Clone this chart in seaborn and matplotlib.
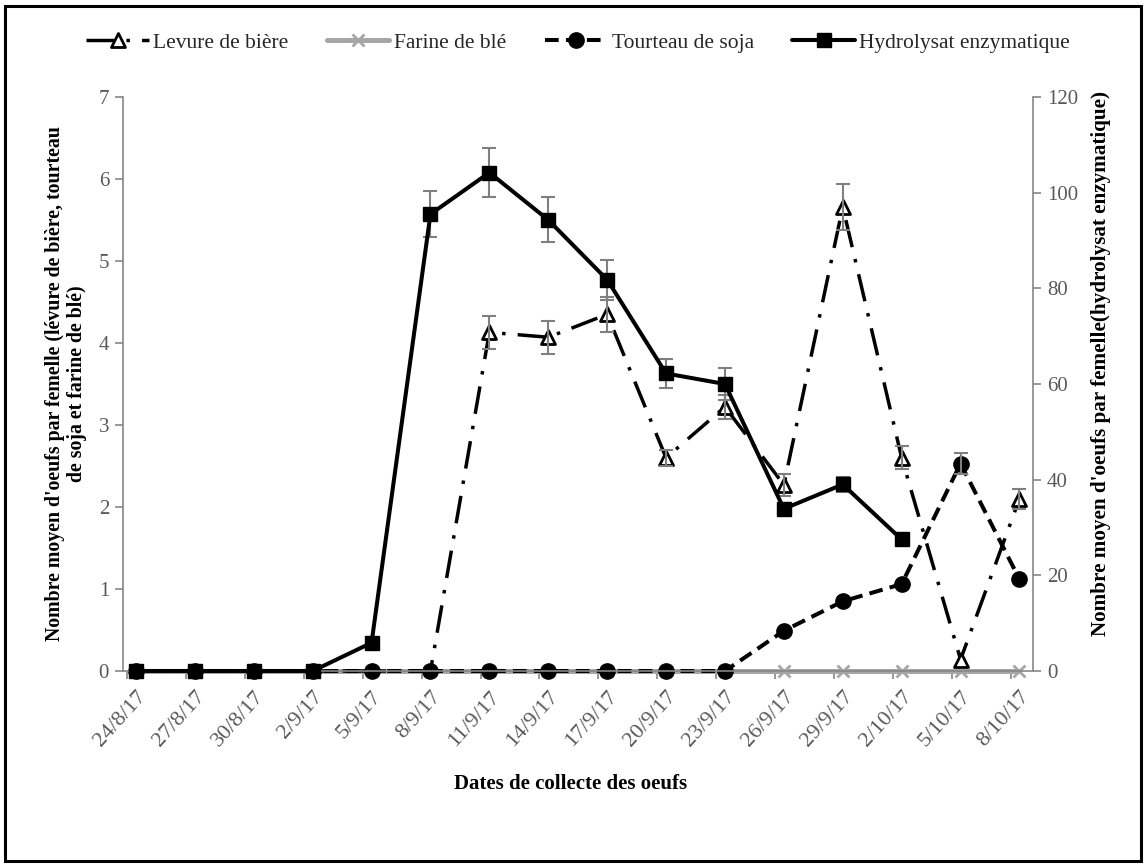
import numpy as np
import matplotlib
matplotlib.use("Agg")
import matplotlib.pyplot as plt
import seaborn as sns
from matplotlib.markers import MarkerStyle
from matplotlib.patches import Rectangle

# dates de collecte
dates = ["24/8/17", "27/8/17", "30/8/17", "2/9/17", "5/9/17", "8/9/17",
         "11/9/17", "14/9/17", "17/9/17", "20/9/17", "23/9/17", "26/9/17",
         "29/9/17", "2/10/17", "5/10/17", "8/10/17"]

# axe gauche
levure = [0, 0, 0, 0, 0, 0, 4.13, 4.07, 4.35, 2.6, 3.22, 2.27, 5.66, 2.6, 0.14, 2.1]
levure_err = [0, 0, 0, 0, 0, 0, 0.2, 0.2, 0.21, 0.1, 0.15, 0.13, 0.28, 0.14, 0, 0.12]
farine = [0, 0, 0, 0, 0, 0, 0, 0, 0, 0, 0, 0, 0, 0, 0, 0]
soja = [0, 0, 0, 0, 0, 0, 0, 0, 0, 0, 0, 0.49, 0.85, 1.06, 2.53, 1.12]
soja_err = [0, 0, 0, 0, 0, 0, 0, 0, 0, 0, 0, 0, 0, 0, 0.13, 0]

# axe droit
hydrolysat = [0, 0, 0, 0, 5.9, 95.5, 104.2, 94.3, 81.8, 62.2, 60, 33.9, 39, 27.5, np.nan, np.nan]
hydro_err = [0, 0, 0, 0, 0, 4.8, 5.2, 4.7, 4.2, 3, 3.3, 0, 1.5, 0, 0, 0]

sns.set_theme(style="white")
plt.rcParams['font.family'] = ['Liberation Serif', 'DejaVu Serif']

gris_axe = '#868686'
gris_txt = '#595959'
gris_err = '#7f7f7f'

fig = plt.figure(figsize=(11.47, 8.67), dpi=100)
ax = fig.add_axes([123 / 1147, 1 - 671 / 867, 910 / 1147, 574 / 867])
ax2 = ax.twinx()

x = np.arange(len(dates))


def barres(a, valeurs, erreurs):
    # seulement les points qui ont une barre d'erreur
    v = np.asarray(valeurs, dtype=float)
    e = np.asarray(erreurs, dtype=float)
    m = e > 0
    a.errorbar(x[m], v[m], yerr=e[m], fmt='none', ecolor=gris_err,
               elinewidth=1.5, capsize=5, capthick=1.5)


sns.lineplot(x=x, y=farine, ax=ax, color='#a6a6a6', linewidth=3.6, clip_on=False,
             marker='x', markersize=9, markeredgewidth=2, markeredgecolor='#a6a6a6',
             label='Farine de blé', legend=False)
# les triangles a zero sont caches sous les carres / ronds dans l'original
sns.lineplot(x=x, y=levure, ax=ax, color='black', linewidth=2.5, clip_on=False,
             linestyle=(0, (8, 3.5, 1, 3.5)),
             marker=MarkerStyle('^', joinstyle='round'), markersize=9.5, markeredgewidth=2,
             markeredgecolor='black', markerfacecolor='white',
             markevery=[v > 0 for v in levure],
             label='Levure de bière', legend=False)
barres(ax, levure, levure_err)
sns.lineplot(x=x, y=soja, ax=ax, color='black', linewidth=2.9, clip_on=False,
             linestyle=(0, (3.4, 1.8)),
             marker='o', markersize=11, markeredgewidth=1,
             markeredgecolor='black', markerfacecolor='black',
             label='Tourteau de soja', legend=False)
barres(ax, soja, soja_err)

barres(ax2, hydrolysat, hydro_err)
sns.lineplot(x=x, y=hydrolysat, ax=ax2, color='black', linewidth=2.9, clip_on=False,
             marker='s', markersize=10.5, markeredgewidth=1,
             markeredgecolor='black', markerfacecolor='black',
             label='Hydrolysat enzymatique', legend=False)

ax.set_xlim(-0.22, 15.23)
ax.set_ylim(0, 7)
ax2.set_ylim(0, 120)
ax.set_yticks(range(0, 8))
ax2.set_yticks(range(0, 121, 20))
# etiquettes sous les points, traits de graduation un peu decales
ax.set_xticks(x)
ax.set_xticks(x - 0.15, minor=True)
ax.set_xticklabels(dates, rotation=48, ha='right', va='top', rotation_mode='anchor')

for a in (ax, ax2):
    for s in a.spines.values():
        s.set_color(gris_axe)
        s.set_linewidth(1.2)
    a.spines['top'].set_visible(False)
    a.grid(False)
ax.spines['right'].set_visible(False)
ax2.spines['left'].set_visible(False)
ax2.spines['bottom'].set_visible(False)

ax.tick_params(axis='y', direction='out', length=6, width=1.2, color=gris_axe,
               labelsize=15, labelcolor=gris_txt, pad=4)
ax.tick_params(axis='x', which='major', length=0, labelsize=16, labelcolor=gris_txt, pad=12)
ax.tick_params(axis='x', which='minor', direction='out', length=6, width=1.2,
               color=gris_axe, bottom=True)
ax2.tick_params(axis='y', direction='out', length=6, width=1.2, color=gris_axe,
                labelsize=15, labelcolor=gris_txt, pad=4)

ax.set_ylabel("Nombre moyen d'oeufs par femelle (lévure de bière, tourteau\nde soja et farine de blé)",
              fontsize=14.3, fontweight='bold', color='black', linespacing=1.1)
ax.yaxis.set_label_coords(-0.04, 0.5)
ax2.set_ylabel("Nombre moyen d'oeufs par femelle(hydrolysat enzymatique)",
               fontsize=15.2, fontweight='bold', color='black')
ax2.yaxis.set_label_coords(1.064, 0.535)
ax.set_xlabel("Dates de collecte des oeufs", fontsize=15, fontweight='bold', color='black')
ax.xaxis.set_label_coords(0.492, -0.179)

h1, l1 = ax.get_legend_handles_labels()
h2, l2 = ax2.get_legend_handles_labels()
poignees = dict(zip(l1 + l2, h1 + h2))
ordre = ['Levure de bière', 'Farine de blé', 'Tourteau de soja', 'Hydrolysat enzymatique']
fig.legend([poignees[k] for k in ordre], ordre, loc='center', bbox_to_anchor=(0.504, 0.951),
           ncol=4, frameon=False, fontsize=15.5, handlelength=2.9, handletextpad=0.2,
           columnspacing=1.8)

fig.patches.append(Rectangle((5 / 1147, 6 / 867), 1136 / 1147, 855 / 867,
                             transform=fig.transFigure, fill=False,
                             edgecolor='black', linewidth=2.2))

fig.savefig('out.png', dpi=100)
